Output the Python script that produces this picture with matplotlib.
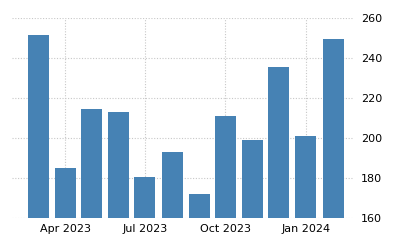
import matplotlib
matplotlib.use("Agg")
import matplotlib.pyplot as plt
import matplotlib.dates as mdates
import numpy as np
import datetime as dt

months = ["2023-03", "2023-04", "2023-05", "2023-06", "2023-07", "2023-08",
          "2023-09", "2023-10", "2023-11", "2023-12", "2024-01", "2024-02"]
values = [251.3, 184.8, 214.3, 212.9, 180.4, 192.9, 171.9, 210.9, 198.9, 235.3, 200.9, 249.3]
tick_months = ["2023-04", "2023-07", "2023-10", "2024-01"]
tick_labels = ["Apr 2023", "Jul 2023", "Oct 2023", "Jan 2024"]
y_ticks = [160, 180, 200, 220, 240, 260]

dates = [dt.datetime.strptime(m, "%Y-%m") for m in months]
tdates = [dt.datetime.strptime(m, "%Y-%m") for m in tick_months]

fig = plt.figure(figsize=(4, 2.5), dpi=100)
ax = fig.add_axes([0.03, 0.128, 0.855, 0.801])
ax.bar(dates, values, width=24, color="#4682b4", zorder=2)
ax.set_ylim(160, 260)
ax.set_xlim(dt.datetime(2023, 1, 30), dt.datetime(2024, 2, 25))
ax.set_yticks(y_ticks)
ax.set_xticks(tdates)
ax.set_xticklabels(tick_labels)
ax.yaxis.tick_right()
for s in ax.spines.values():
    s.set_visible(False)
ax.grid(True, color="#c8c8c8", linestyle=(0, (1, 1.5)), linewidth=0.8, zorder=0)
ax.tick_params(axis="both", length=0, labelsize=8, colors="#000000")
ax.tick_params(axis="y", pad=5)
ax.tick_params(axis="x", pad=4)
fig.savefig("out.png", dpi=100)
